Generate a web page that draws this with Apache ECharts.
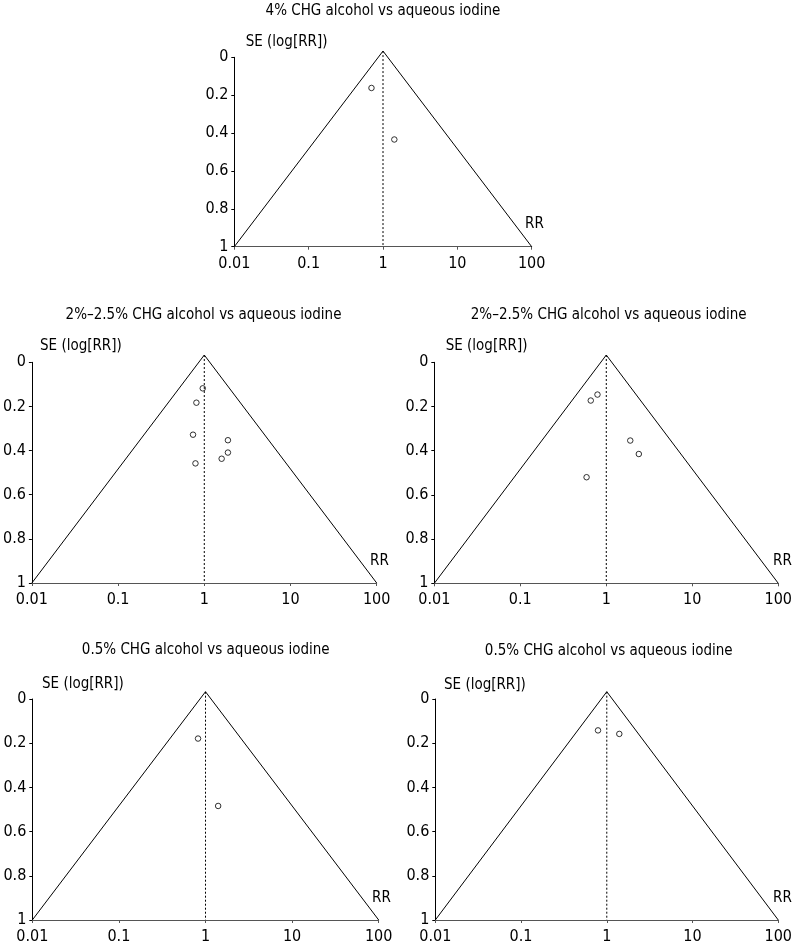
<!DOCTYPE html>
<html>
<head>
<meta charset="utf-8">
<script src="https://cdn.jsdelivr.net/npm/echarts@6/dist/echarts.min.js"></script>
<style>
html,body{margin:0;padding:0;background:#fff;}
#c{width:795px;height:949px;}
</style>
</head>
<body>
<div id="c"></div>
<script>
// ---- data ----
var titles = [
  '4% CHG alcohol vs aqueous iodine',
  '2%\u20132.5% CHG alcohol vs aqueous iodine',
  '2%\u20132.5% CHG alcohol vs aqueous iodine',
  '0.5% CHG alcohol vs aqueous iodine',
  '0.5% CHG alcohol vs aqueous iodine'
];
var yAxisTitle = 'SE (log[RR])';
var xAxisTitle = 'RR';
var xTicks = [0.01, 0.1, 1, 10, 100];
var xTickLabels = ['0.01', '0.1', '1', '10', '100'];
var yTicks = [0, 0.2, 0.4, 0.6, 0.8, 1];
var yTickLabels = ['0', '0.2', '0.4', '0.6', '0.8', '1'];
var apexSE = -0.033;
// points: [RR, SE]
var panel1RR = [0.70, 1.42];
var panel1SE = [0.162, 0.434];
var panel2RR = [0.96, 0.81, 0.74, 0.79, 1.88, 1.88, 1.59];
var panel2SE = [0.118, 0.183, 0.328, 0.458, 0.353, 0.409, 0.437];
var panel3RR = [0.79, 0.66, 1.90, 2.39, 0.59];
var panel3SE = [0.146, 0.173, 0.354, 0.415, 0.520];
var panel4RR = [0.82, 1.40];
var panel4SE = [0.179, 0.484];
var panel5RR = [0.79, 1.40];
var panel5SE = [0.142, 0.158];

var panelRR = [panel1RR, panel2RR, panel3RR, panel4RR, panel5RR];
var panelSE = [panel1SE, panel2SE, panel3SE, panel4SE, panel5SE];

// ---- layout ----
var FONT = '"DejaVu Sans Condensed", "Liberation Sans Narrow", sans-serif';
var grids = [
  {left: 234.3, top: 57.3, width: 297.4, height: 189.4},
  {left: 30.7, top: 362.3, width: 346.0, height: 220.7},
  {left: 434.3, top: 362.3, width: 346.7, height: 221.0},
  {left: 32.3, top: 699.0, width: 346.4, height: 221.0},
  {left: 435.3, top: 699.0, width: 346.4, height: 221.0}
];
var titlePos = [[383, 11], [203.5, 315], [608.7, 315], [205.7, 650.5], [608.7, 651.5]];
var sePos = [[245.7, 42], [40, 346], [445.7, 346.5], [42, 684], [444, 685.5]];
var rrPos = [[525, 224], [370, 561.5], [773, 561], [372, 898.5], [773, 898.5]];

var option = {
  animation: false,
  backgroundColor: '#fff',
  textStyle: {fontFamily: FONT},
  grid: [], xAxis: [], yAxis: [], series: [], graphic: []
};

for (var i = 0; i < 5; i++) {
  option.grid.push({left: grids[i].left, top: grids[i].top, width: grids[i].width, height: grids[i].height, containLabel: false});
  option.xAxis.push({
    type: 'log', logBase: 10, gridIndex: i, min: 0.01, max: 100, position: 'bottom',
    axisLine: {show: true, onZero: false, lineStyle: {color: '#555', width: 1}},
    axisTick: {show: true, length: 3, lineStyle: {color: '#555'}, customValues: xTicks},
    axisLabel: {
      show: true, margin: 9, color: '#000', fontSize: 16, fontFamily: FONT,
      customValues: xTicks,
      formatter: function (v) {
        var k = Math.round(Math.log(v) / Math.LN10) + 2;
        return xTickLabels[k] !== undefined ? xTickLabels[k] : '';
      }
    },
    splitLine: {show: false}, minorTick: {show: false}
  });
  option.yAxis.push({
    type: 'value', gridIndex: i, min: 0, max: 1, inverse: true,
    axisLine: {show: true, onZero: false, lineStyle: {color: '#000', width: 1}},
    axisTick: {show: true, length: 3, lineStyle: {color: '#000'}, customValues: yTicks},
    axisLabel: {
      show: true, margin: 6, color: '#000', fontSize: 16, fontFamily: FONT,
      customValues: yTicks,
      formatter: function (v) {
        var k = Math.round(v * 5);
        return yTickLabels[k] !== undefined ? yTickLabels[k] : '';
      }
    },
    splitLine: {show: false}
  });
  // funnel triangle
  option.series.push({
    type: 'line', xAxisIndex: i, yAxisIndex: i, clip: false, symbol: 'none', silent: true,
    lineStyle: {color: '#000', width: 1},
    data: [[xTicks[0], 1], [1, apexSE], [xTicks[4], 1]]
  });
  // dotted center line
  option.series.push({
    type: 'line', xAxisIndex: i, yAxisIndex: i, clip: false, symbol: 'none', silent: true,
    lineStyle: {color: '#000', width: 1, type: [2, 2]},
    data: [[1, apexSE], [1, 1]]
  });
  // study points
  var pts = [];
  for (var j = 0; j < panelRR[i].length; j++) pts.push([panelRR[i][j], panelSE[i][j]]);
  option.series.push({
    type: 'scatter', xAxisIndex: i, yAxisIndex: i, symbol: 'circle', symbolSize: 5.5,
    itemStyle: {color: '#fff', borderColor: '#000', borderWidth: 1},
    data: pts
  });
  option.graphic.push({
    type: 'text', x: titlePos[i][0], y: titlePos[i][1],
    style: {text: titles[i], fill: '#000', font: '15px ' + FONT, align: 'center', verticalAlign: 'middle'}
  });
  option.graphic.push({
    type: 'text', x: sePos[i][0], y: sePos[i][1],
    style: {text: yAxisTitle, fill: '#000', font: '15px ' + FONT, align: 'left', verticalAlign: 'middle'}
  });
  option.graphic.push({
    type: 'text', x: rrPos[i][0], y: rrPos[i][1],
    style: {text: xAxisTitle, fill: '#000', font: '15px ' + FONT, align: 'left', verticalAlign: 'middle'}
  });
}

var chart = echarts.init(document.getElementById('c'), null, {renderer: 'canvas'});
chart.setOption(option);
</script>
</body>
</html>
